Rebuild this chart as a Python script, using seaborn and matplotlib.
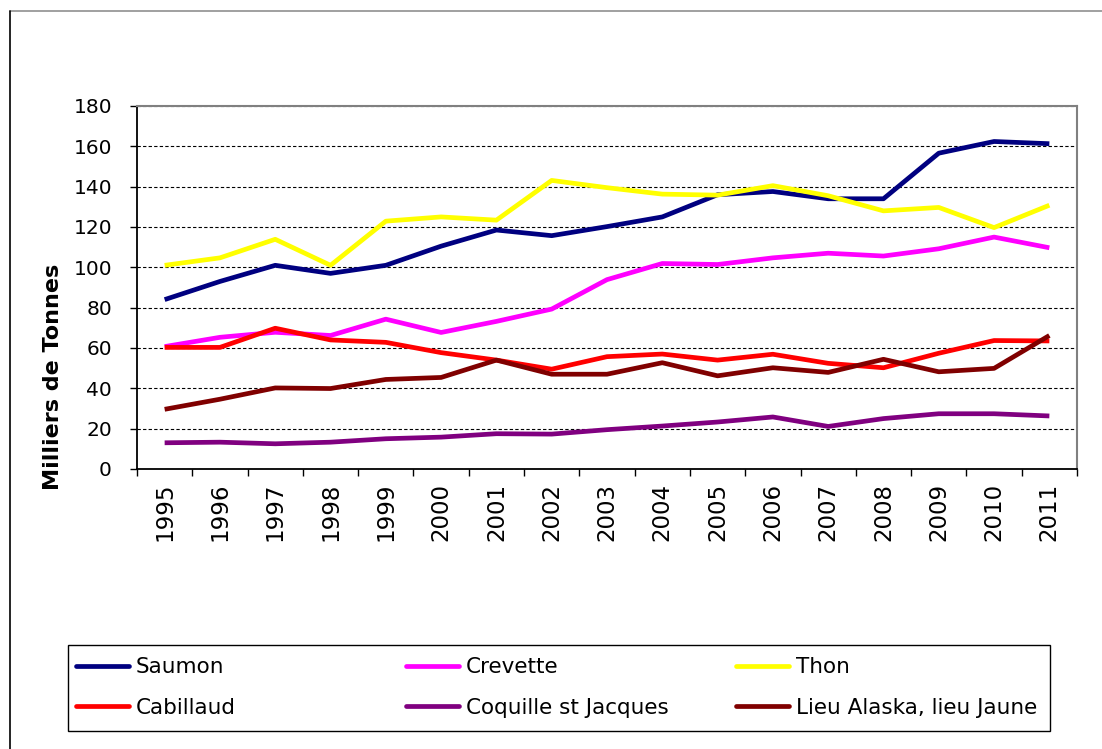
import numpy as np
import pandas as pd
import matplotlib
matplotlib.use("Agg")
import matplotlib.pyplot as plt
from matplotlib.lines import Line2D
from matplotlib.patches import Rectangle
import seaborn as sns

# ---- data (milliers de tonnes) ----
years = [1995, 1996, 1997, 1998, 1999, 2000, 2001, 2002, 2003,
         2004, 2005, 2006, 2007, 2008, 2009, 2010, 2011]
saumon = [84, 93, 101, 97, 101, 110.5, 118.5, 115.7, 120.2, 125, 136, 137.6, 134, 134, 156.6, 162.4, 161.3]
crevette = [60.7, 65.3, 67.8, 66.2, 74.3, 67.7, 73.2, 79.3, 93.9, 101.9, 101.4, 104.7, 107, 105.6, 109.2, 115, 109.7]
thon = [101, 104.7, 113.9, 101, 122.9, 125, 123.4, 143.1, 139.5, 136.3, 135.8, 140.5, 135.5, 128, 129.7, 119.7, 130.8]
cabillaud = [60.3, 60.3, 69.8, 64, 62.8, 57.7, 54, 49.5, 55.7, 57, 54, 56.9, 52.4, 50.2, 57.4, 63.7, 63.5]
coquille = [13, 13.3, 12.5, 13.3, 15, 15.8, 17.5, 17.3, 19.5, 21.3, 23.3, 25.8, 21.1, 25, 27.4, 27.4, 26.3]
lieu = [29.6, 34.6, 40.2, 39.9, 44.4, 45.4, 54, 47, 47, 52.7, 46.2, 50.2, 47.9, 54.4, 48.2, 49.9, 66.2]

series_names = ["Saumon", "Crevette", "Thon", "Cabillaud",
                "Coquille st Jacques", "Lieu Alaska, lieu Jaune"]
series_values = [saumon, crevette, thon, cabillaud, coquille, lieu]
colors = ["#000080", "#FF00FF", "#FFFF00", "#FF0000", "#800080", "#800000"]
yticks = [0, 20, 40, 60, 80, 100, 120, 140, 160, 180]
ylabel = "Milliers de Tonnes"

df = pd.DataFrame({
    "Année": np.tile(years, len(series_names)),
    "Produit": np.repeat(series_names, len(years)),
    "Valeur": np.concatenate(series_values),
})
palette = dict(zip(series_names, colors))

# ---- figure ----
sns.set_style("white")
plt.rcParams["font.family"] = ["DejaVu Sans"]
plt.rcParams["text.color"] = "black"
plt.rcParams["axes.labelcolor"] = "black"
W, H = 1102, 749
fig = plt.figure(figsize=(W / 100, H / 100), dpi=100)
ax = fig.add_axes([137 / W, 1 - 469 / H, 940 / W, 363 / H])

sns.lineplot(data=df, x="Année", y="Valeur", hue="Produit", hue_order=series_names,
             palette=palette, linewidth=3.4, errorbar=None, legend=False, ax=ax,
             solid_joinstyle="round", solid_capstyle="butt")

ax.set_xlim(years[0] - 0.5, years[-1] + 0.5)
ax.set_ylim(0, 180)
ax.set_yticks(yticks)
ax.set_yticklabels([str(v) for v in yticks], fontsize=14.5, color="black")
ax.set_xticks(years)
ax.set_xticklabels([str(y) for y in years], rotation=90, fontsize=16.5, color="black")
ax.set_xticks(np.arange(years[0] - 0.5, years[-1] + 1, 1), minor=True)
ax.tick_params(axis="x", which="major", length=0, pad=10)
ax.tick_params(axis="x", which="minor", length=5, width=1, color="black", direction="out", bottom=True)
ax.tick_params(axis="y", which="major", length=5, width=1, color="black", direction="out", left=True, pad=13)
ax.set_xlabel("")
ax.set_ylabel(ylabel, fontsize=16, fontweight="bold", color="black")
ax.yaxis.set_label_coords(-0.079, 0.255)

ax.set_axisbelow(True)
ax.yaxis.grid(True, color="black", linestyle=(0, (3, 2)), linewidth=0.8)
ax.xaxis.grid(False)
for side in ["left", "bottom"]:
    ax.spines[side].set_color("black")
    ax.spines[side].set_linewidth(1.3)
for side in ["top", "right"]:
    ax.spines[side].set_color("#808080")
    ax.spines[side].set_linewidth(1.5)
    ax.spines[side].set_visible(True)

# ---- legend: three columns inside a framed box ----
fig.add_artist(Rectangle((68 / W, 1 - 731 / H), (1050 - 68) / W, (731 - 645) / H,
                         transform=fig.transFigure, fill=False, edgecolor="black", linewidth=1))
col_x = [76, 406, 736]
for c in range(3):
    idx = [c, c + 3]
    handles = [Line2D([0], [0], color=colors[i], linewidth=3.4) for i in idx]
    labels = [series_names[i] for i in idx]
    fig.legend(handles, labels, loc="center left",
               bbox_to_anchor=(col_x[c] / W, 1 - 687.5 / H),
               frameon=False, borderpad=0, borderaxespad=0, fontsize=15.5,
               handlelength=2.45, handletextpad=0.33, labelspacing=0.95)

# ---- outer chart border (top and left edges visible) ----
fig.add_artist(Line2D([10 / W, 1], [1 - 11 / H, 1 - 11 / H], transform=fig.transFigure,
                      color="#909090", linewidth=1.2))
fig.add_artist(Line2D([10 / W, 10 / W], [1 - 11 / H, 0], transform=fig.transFigure,
                      color="black", linewidth=1.2))

fig.savefig("out.png", dpi=100)
